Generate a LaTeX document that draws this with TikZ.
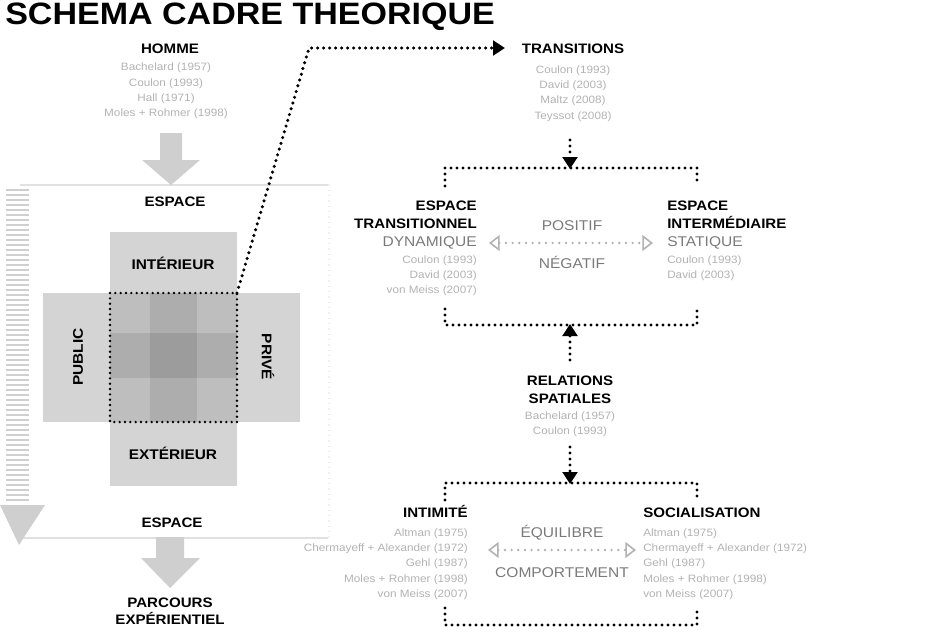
\documentclass[tikz,border=0pt]{standalone}
\usepackage{fontspec}
\setmainfont{Liberation Sans}[FakeStretch=1.1]
\usetikzlibrary{arrows.meta}
\definecolor{boxgray}{HTML}{D4D4D4}
\definecolor{cornergray}{HTML}{BEBEBE}
\definecolor{edgegray}{HTML}{ADADAD}
\definecolor{centergray}{HTML}{9C9C9C}
\definecolor{citegray}{HTML}{B2B2B2}
\definecolor{midgray}{HTML}{7A7A7A}
\definecolor{arrowgray}{HTML}{CFCFCF}
\definecolor{framegray}{HTML}{E0E0E0}
\tikzset{
  lbl/.style={font=\bfseries\fontsize{10.3}{13}\selectfont, inner sep=0pt, align=center},
  cite/.style={text=citegray, font=\fontsize{8}{11.5}\selectfont, inner sep=0pt},
  mid/.style={text=midgray, font=\fontsize{10.6}{13}\selectfont, inner sep=0pt},
  dotline/.style={line width=2.6pt, dash pattern=on 0pt off 4.5pt, line cap=round},
  fineline/.style={line width=2pt, dash pattern=on 0pt off 4pt, line cap=round},
  tip/.style={-{Triangle[length=9pt,width=11pt]}},
  grayline/.style={draw=citegray, line width=2pt, dash pattern=on 0pt off 5pt, line cap=round,
     {Triangle[open,length=8pt,width=12pt,line width=1.2pt]}-{Triangle[open,length=8pt,width=12pt,line width=1.2pt]}},
}
\begin{document}
\begin{tikzpicture}[x=0.75pt,y=-0.75pt]
\useasboundingbox (0,0) rectangle (936,629);

% title
\node[anchor=base west, inner sep=0pt, font=\bfseries\fontsize{23.2}{26}\selectfont] (title) at (5,24) {SCHEMA CADRE THEORIQUE};

% frame of the space
\draw[framegray, line width=1.2pt] (20,185) -- (328,185);
\draw[framegray, line width=1.2pt] (20,538) -- (328,538);
\draw[framegray, line width=1.2pt, dash pattern=on 0pt off 4pt, line cap=round] (329,185) -- (329,538);

% left ladder arrow
\foreach \yy in {190,195,...,500} \draw[arrowgray, line width=1.4pt] (6,\yy) -- (29,\yy);
\fill[arrowgray] (0,505) -- (45,505) -- (19,545) -- cycle;

% HOMME
\node[lbl, anchor=base] (homme) at (170,53) {HOMME};
\node[cite, align=center, anchor=north] (hommecite) at (166,63) {Bachelard (1957)\\Coulon (1993)\\Hall (1971)\\Moles + Rohmer (1998)};

% big arrow top
\fill[arrowgray] (160,133) -- (182,133) -- (182,160) -- (200,160) -- (171,185) -- (142,160) -- (160,160) -- cycle;

\node[lbl, anchor=base] (espace1) at (175,206) {ESPACE};

% cross of boxes
\fill[boxgray] (110,232) rectangle (237,293);
\fill[boxgray] (110,422) rectangle (237,486);
\fill[boxgray] (43,293) rectangle (110,422);
\fill[boxgray] (237,293) rectangle (300,422);
\fill[cornergray] (110,293) rectangle (237,422);
\fill[edgegray] (150,293) rectangle (197,422);
\fill[edgegray] (110,333) rectangle (237,378);
\fill[centergray] (150,333) rectangle (197,378);
\coordinate (coreNW) at (110,293);
\coordinate (coreNE) at (237,293);
\coordinate (coreSE) at (237,422);
\coordinate (coreSW) at (110,422);
\draw[fineline] (coreNW) -- (coreNE) -- (coreSE) -- (coreSW) -- cycle;

\node[lbl, font=\bfseries\fontsize{10.5}{13}\selectfont] (interieur) at (173,263) {INTÉRIEUR};
\node[lbl, font=\bfseries\fontsize{10.5}{13}\selectfont] (exterieur) at (173,453) {EXTÉRIEUR};
\node[lbl, font=\bfseries\fontsize{10.5}{13}\selectfont, rotate=90] (public) at (78,357) {PUBLIC};
\node[lbl, font=\bfseries\fontsize{10.5}{13}\selectfont, rotate=-90] (prive) at (268,357) {PRIVÉ};

\node[lbl, anchor=base] (espace2) at (172,527) {ESPACE};

% big arrow bottom
\fill[arrowgray] (156,537) -- (184,537) -- (184,558) -- (200,558) -- (170,588) -- (141,558) -- (156,558) -- cycle;

\node[lbl, anchor=base] (parcours) at (170,607) {PARCOURS};
\node[lbl, anchor=base] (experientiel) at (170,624) {EXPÉRIENTIEL};

% TRANSITIONS
\node[lbl, anchor=base] (transitions) at (573,53) {TRANSITIONS};
\node[cite, align=center, anchor=north] (transcite) at (573,65) {Coulon (1993)\\David (2003)\\Maltz (2008)\\Teyssot (2008)};
\coordinate (bend) at (309,48);
\coordinate (trtip) at (505,48);
\draw[dotline, tip] (coreNE) -- (bend) -- (trtip);

% box 1
\coordinate (b1top) at (570,169);
\coordinate (b1bot) at (570,324);
\coordinate (transfoot) at (570,140);
\draw[dotline] (445,186) -- (445,168) -- (697,168) -- (697,186);
\draw[dotline] (445,309) -- (445,325) -- (697,325) -- (697,309);
\draw[dotline, tip] (transfoot) -- (b1top);

\node[lbl, anchor=base east] (etrans) at (477,210) {ESPACE};
\node[lbl, anchor=base east] (etrans2) at (477,228) {TRANSITIONNEL};
\node[mid, anchor=base east] (dynamique) at (477,246) {DYNAMIQUE};
\node[cite, align=right, anchor=north east] (etranscite) at (477,255) {Coulon (1993)\\David (2003)\\von Meiss (2007)};

\node[lbl, anchor=base west] (einter) at (667,210) {ESPACE};
\node[lbl, anchor=base west] (einter2) at (667,228) {INTERMÉDIAIRE};
\node[mid, anchor=base west] (statique) at (667,246) {STATIQUE};
\node[cite, align=left, anchor=north west] (eintercite) at (667,255) {Coulon (1993)\\David (2003)};

\node[mid, anchor=base] (positif) at (572,230) {POSITIF};
\node[mid, anchor=base] (negatif) at (572,268) {NÉGATIF};
\coordinate (pnL) at (489,243);
\coordinate (pnR) at (653,243);
\draw[grayline] (pnL) -- (pnR);

% RELATIONS
\node[lbl, anchor=base] (relations) at (570,385) {RELATIONS};
\node[lbl, anchor=base] (spatiales) at (570,403) {SPATIALES};
\node[cite, align=center, anchor=north] (relcite) at (570,411) {Bachelard (1957)\\Coulon (1993)};
\coordinate (relhead) at (570,360);
\coordinate (relfoot) at (570,447);
\draw[dotline, tip] (relhead) -- (b1bot);

% box 2
\coordinate (b2top) at (570,484);
\draw[dotline] (445,500) -- (445,483) -- (697,483) -- (697,500);
\draw[dotline] (445,608) -- (445,625) -- (697,625) -- (697,608);
\draw[dotline, tip] (relfoot) -- (b2top);

\node[lbl, anchor=base east] (intimite) at (468,517) {INTIMITÉ};
\node[cite, align=right, anchor=north east] (intcite) at (468,528) {Altman (1975)\\Chermayeff + Alexander (1972)\\Gehl (1987)\\Moles + Rohmer (1998)\\von Meiss (2007)};
\node[lbl, anchor=base west] (socialisation) at (643,517) {SOCIALISATION};
\node[cite, align=left, anchor=north west] (soccite) at (643,528) {Altman (1975)\\Chermayeff + Alexander (1972)\\Gehl (1987)\\Moles + Rohmer (1998)\\von Meiss (2007)};

\node[mid, anchor=base] (equilibre) at (562,537) {ÉQUILIBRE};
\node[mid, anchor=base] (comportement) at (562,577) {COMPORTEMENT};
\coordinate (ecL) at (488,550);
\coordinate (ecR) at (636,550);
\draw[grayline] (ecL) -- (ecR);
\end{tikzpicture}
\end{document}
